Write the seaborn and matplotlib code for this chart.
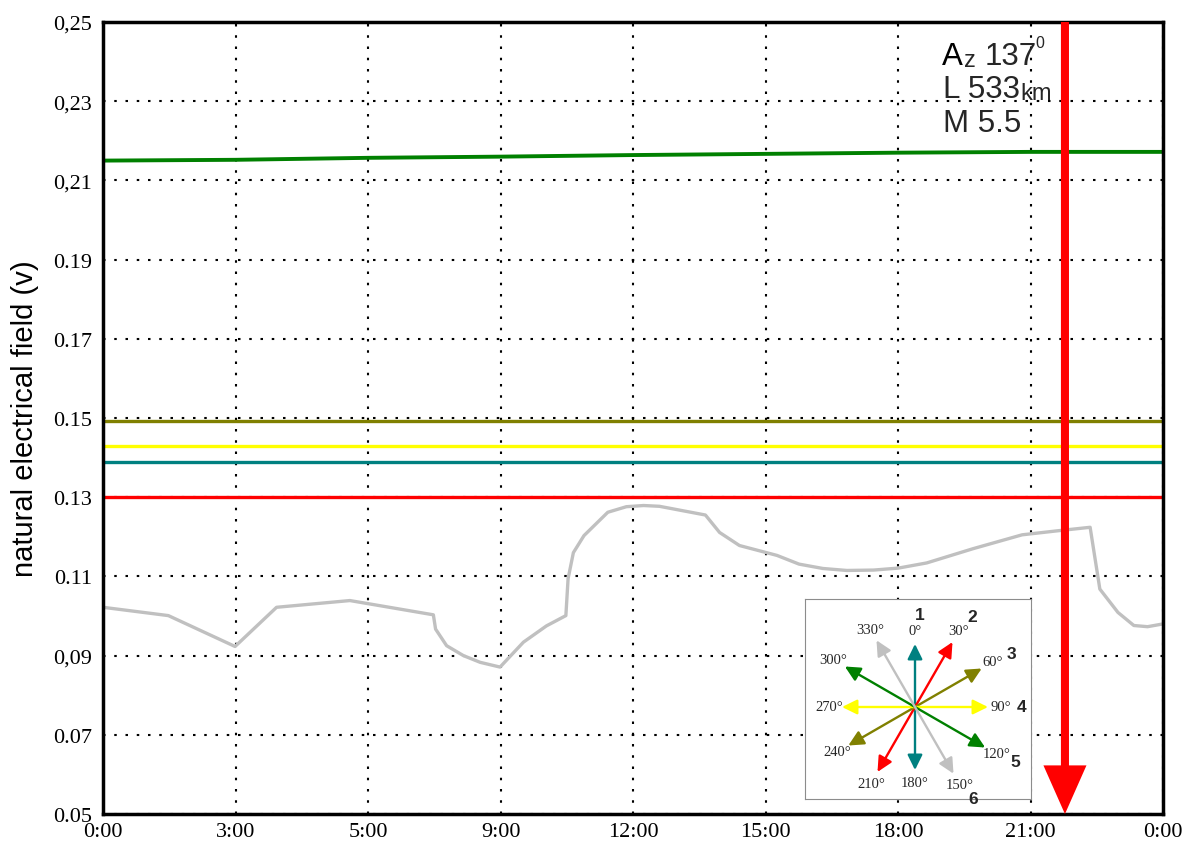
import numpy as np
import pandas as pd
import matplotlib
matplotlib.use("Agg")
import matplotlib.pyplot as plt
import seaborn as sns

# ---- axis ticks -------------------------------------------------------
hour_ticks = [0, 3, 6, 9, 12, 15, 18, 21, 24]
hour_labels = ["0:00", "3:00", "5:00", "9:00", "12:00", "15:00", "18:00", "21:00", "0:00"]
field_ticks = [0.05, 0.07, 0.09, 0.11, 0.13, 0.15, 0.17, 0.19, 0.21, 0.23, 0.25]
field_labels = ["0.05", "0.07", "0,09", "0.11", "0.13", "0.15", "0.17", "0.19", "0,21", "0,23", "0,25"]

# ---- measured field per sensor direction (volts) ----------------------
green_hours = [0, 3, 6, 9, 12, 15, 18, 21, 24]
green_vals = [0.2150, 0.2152, 0.2157, 0.2160, 0.2164, 0.2167, 0.2170, 0.2172, 0.2172]

flat_hours = [0, 24]
olive_vals = [0.1492, 0.1492]
yellow_vals = [0.1430, 0.1430]
teal_vals = [0.1388, 0.1388]
red_vals = [0.1300, 0.1300]

gray_hours = [0.00, 1.48, 2.99, 3.93, 5.59, 7.48, 7.53, 7.78, 8.16, 8.54, 8.99, 9.52,
              10.04, 10.48, 10.53, 10.65, 10.89, 11.43, 11.85, 12.24, 12.60, 13.64,
              13.96, 14.41, 15.26, 15.76, 16.30, 16.84, 17.45, 18.01, 18.65, 19.70,
              20.81, 21.60, 22.35, 22.57, 22.98, 23.34, 23.65, 24.00]
gray_vals = [0.1022, 0.1001, 0.0923, 0.1022, 0.1039, 0.1003, 0.0967, 0.0925, 0.0900,
             0.0883, 0.0871, 0.0934, 0.0975, 0.1001, 0.1094, 0.1160, 0.1203, 0.1262,
             0.1276, 0.1279, 0.1277, 0.1255, 0.1211, 0.1178, 0.1153, 0.1131, 0.1120,
             0.1115, 0.1116, 0.1121, 0.1134, 0.1170, 0.1205, 0.1215, 0.1224, 0.1068,
             0.1009, 0.0976, 0.0973, 0.0980]

# earthquake event marker (hour of day)
event_hour = 21.78

# ---- compass rose of sensor directions --------------------------------
rose_angles = [0, 30, 60, 90, 120, 150]
rose_colors = ["#008080", "#ff0000", "#808000", "#ffff00", "#008000", "#c0c0c0"]
rose_lengths = [63, 75, 77, 73, 81, 77]
rose_numbers = ["1", "2", "3", "4", "5", "6"]

sns.set_theme(style="white")
plt.rcParams["font.family"] = ["Liberation Serif", "DejaVu Serif"]
SANS = ["Liberation Sans", "DejaVu Sans"]

fig = plt.figure(figsize=(11.85, 8.45), dpi=100)
fig.patch.set_facecolor("white")
ax = fig.add_axes([103 / 1185, 30 / 845, 1060 / 1185, 792 / 845])
ax.set_facecolor("white")

series = [
    (gray_hours, gray_vals, "#c0c0c0", 2.4),
    (flat_hours, red_vals, "#ff0000", 2.4),
    (flat_hours, teal_vals, "#008080", 2.4),
    (flat_hours, yellow_vals, "#ffff00", 2.4),
    (flat_hours, olive_vals, "#808000", 2.4),
    (green_hours, green_vals, "#008000", 2.8),
]
for hrs, vals, color, lw in series:
    df = pd.DataFrame({"hour": hrs, "field": vals})
    sns.lineplot(data=df, x="hour", y="field", ax=ax, color=color, linewidth=lw,
                 sort=False, estimator=None, zorder=3)

ax.set_xlim(0, 24)
ax.set_ylim(0.05, 0.25)
ax.set_xticks(hour_ticks, labels=hour_labels)
ax.set_yticks(field_ticks, labels=field_labels)
ax.tick_params(axis="both", length=0, labelsize=16, colors="black")
ax.tick_params(axis="y", pad=8)
ax.tick_params(axis="x", pad=6)
ax.set_xlabel("")
ax.set_ylabel("natural electrical field (v)", family=SANS, fontsize=21, color="black")
ax.yaxis.set_label_coords(-0.0603, 0.5)

ax.grid(True, color="black", linestyle=(0, (1.2, 4.2)), linewidth=1.5)
ax.set_axisbelow(True)
for s in ax.spines.values():
    s.set_color("black")
    s.set_linewidth(2.5)
    s.set_zorder(5)

# event arrow
ax.annotate("", xy=(event_hour, 0.05), xytext=(event_hour, 0.25),
            arrowprops=dict(arrowstyle="simple,head_length=35,head_width=31,tail_width=5.8",
                            mutation_scale=1, color="#ff0000", lw=0,
                            shrinkA=0, shrinkB=0), zorder=6)

# event description
tA = ax.text(0.7915, 0.947, "A", transform=ax.transAxes, fontsize=22.5, family=SANS,
             va="baseline", ha="left", color="black")
tz = ax.annotate("z", xy=(1, 0), xycoords=tA, xytext=(1, 0), textcoords="offset points",
                 fontsize=17, family=SANS, va="bottom", ha="left")
t137 = ax.annotate("137", xy=(1, 0), xycoords=(tz, tA), xytext=(6, 0),
                   textcoords="offset points", fontsize=22.5, family=SANS,
                   va="bottom", ha="left")
ax.annotate("0", xy=(1, 1), xycoords=t137, xytext=(-1, 4), textcoords="offset points",
            fontsize=11.5, family=SANS, va="top", ha="left")
tL = ax.text(0.7925, 0.9053, "L 533", transform=ax.transAxes, fontsize=22.5, family=SANS,
             va="baseline", ha="left")
ax.annotate("km", xy=(1, 0), xycoords=tL, xytext=(0, 0), textcoords="offset points",
            fontsize=17, family=SANS, va="bottom", ha="left")
ax.text(0.7925, 0.8628, "M 5.5", transform=ax.transAxes, fontsize=22.5, family=SANS,
        va="baseline", ha="left")

# compass inset
ins = fig.add_axes([805 / 1185, 1 - 800 / 845, 226 / 1185, 200 / 845])
ins.set_facecolor("white")
ins.set_xlim(-110, 116)
ins.set_ylim(-92, 108)
ins.set_xticks([])
ins.set_yticks([])
ins.grid(False)
for s in ins.spines.values():
    s.set_color("#8c8c8c")
    s.set_linewidth(0.8)

for ang, col, ln, num in zip(rose_angles, rose_colors, rose_lengths, rose_numbers):
    t = np.deg2rad(ang)
    dx, dy = np.sin(t), np.cos(t)
    ins.annotate("", xy=(ln * dx, ln * dy), xytext=(-ln * dx, -ln * dy),
                 arrowprops=dict(arrowstyle="<|-|>,head_length=0.65,head_width=0.32",
                                 mutation_scale=14, color=col, lw=1.7,
                                 shrinkA=0, shrinkB=0))
    r = ln + 13
    ins.text(r * dx, r * dy, f"{ang}°", fontsize=10.5, ha="center", va="center",
             family=["Liberation Serif"])
    ins.text(-r * dx, -r * dy, f"{ang + 180}°", fontsize=10.5, ha="center", va="center",
             family=["Liberation Serif"])
    rn = ln + 29
    ins.text(rn * dx + 5, rn * dy, num, fontsize=12.5, fontweight="bold", ha="center",
             va="center", family=SANS)

fig.savefig("out.png", dpi=100)
